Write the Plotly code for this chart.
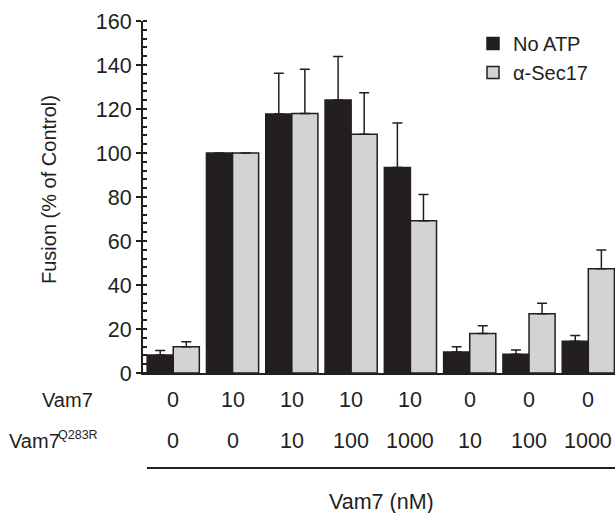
import plotly.graph_objects as go

# ---- data ----
groups = [0, 1, 2, 3, 4, 5, 6, 7]
vam7 = ["0", "10", "10", "10", "10", "0", "0", "0"]
vam7_q283r = ["0", "0", "10", "100", "1000", "10", "100", "1000"]
no_atp = [8.2, 100, 117.7, 124.1, 93.4, 9.5, 8.5, 14.4]
no_atp_err = [2.0, 0, 18.6, 19.8, 20.2, 2.4, 1.9, 2.7]
sec17 = [11.9, 100, 117.9, 108.5, 69.2, 18.0, 26.9, 47.4]
sec17_err = [2.3, 0, 20.2, 18.9, 11.9, 3.5, 4.8, 8.5]
series_names = ["No ATP", "\u03b1-Sec17"]
y_ticks = [0, 20, 40, 60, 80, 100, 120, 140, 160]

INK = "#231f20"
GRAY = "#d1d3d4"
FONT = "Liberation Sans, Arial, sans-serif"
NUM = 21.5

fig = go.Figure()
for name, vals, errs, col in [(series_names[0], no_atp, no_atp_err, INK),
                              (series_names[1], sec17, sec17_err, GRAY)]:
    fig.add_trace(go.Bar(
        x=groups, y=vals, name=name,
        marker=dict(color=col, line=dict(color=INK, width=1.5)),
        error_y=dict(type="data", symmetric=False, array=errs,
                     arrayminus=[0] * len(errs), color=INK,
                     thickness=1.5, width=5),
    ))

# invisible trace to carry the overlay axis (inner half of major ticks)
fig.add_trace(go.Scatter(x=[None], y=[None], yaxis="y2", showlegend=False,
                         hoverinfo="skip"))

W, H = 615, 513
L, R, T, B = 143, 0, 21, 140
ph = H - T - B
pw = W - L - R

def py(Y):
    return (H - B - Y) / ph

def px(X):
    return (X - L) / pw

fig.update_layout(
    width=W, height=H,
    margin=dict(l=L, r=R, t=T, b=B),
    plot_bgcolor="white", paper_bgcolor="white",
    barmode="group", bargap=0.12, bargroupgap=0,
    font=dict(family=FONT, size=20, color=INK),
    showlegend=True,
    legend=dict(x=px(473), y=py(24), xanchor="left", yanchor="top",
                font=dict(size=20, color=INK), bgcolor="rgba(0,0,0,0)",
                itemwidth=30, tracegroupgap=0),
    xaxis=dict(range=[-0.51, 7.45], showticklabels=False, ticks="",
               showgrid=False, zeroline=False, showline=True,
               linecolor=INK, linewidth=2),
    yaxis=dict(range=[0, 160], tickvals=y_ticks, ticks="outside", ticklen=5,
               tickwidth=1.5, tickcolor=INK, showgrid=False, zeroline=False,
               showline=True, linecolor=INK, linewidth=2,
               tickfont=dict(size=NUM, color=INK),
               minor=dict(dtick=4, ticks="inside", ticklen=4, tickwidth=1.5,
                          tickcolor=INK, showgrid=False)),
    yaxis2=dict(range=[0, 160], overlaying="y", side="left", tickvals=y_ticks,
                ticks="inside", ticklen=4, tickwidth=1.5, tickcolor=INK,
                showticklabels=False, showgrid=False, zeroline=False,
                showline=False),
)

annotations = []
# y axis title
annotations.append(dict(text="Fusion (% of Control)", textangle=-90,
                        xref="paper", yref="paper", x=px(49), y=py(190),
                        xanchor="center", yanchor="middle", showarrow=False,
                        font=dict(size=20, color=INK)))
# row labels
annotations.append(dict(text="Vam7", xref="paper", yref="paper", x=px(95),
                        y=py(400), xanchor="right", yanchor="middle",
                        showarrow=False, font=dict(size=20, color=INK)))
annotations.append(dict(text="Vam7", xref="paper", yref="paper", x=px(62),
                        y=py(441), xanchor="right", yanchor="middle",
                        showarrow=False, font=dict(size=20, color=INK)))
annotations.append(dict(text="Q283R", xref="paper", yref="paper", x=px(56),
                        y=py(435), xanchor="left", yanchor="middle",
                        showarrow=False, font=dict(size=12.5, color=INK)))
for g, a, b in zip(groups, vam7, vam7_q283r):
    annotations.append(dict(text=a, xref="x", yref="paper", x=g, y=py(400),
                            xanchor="center", yanchor="middle", showarrow=False,
                            font=dict(size=NUM, color=INK)))
    annotations.append(dict(text=b, xref="x", yref="paper", x=g, y=py(441),
                            xanchor="center", yanchor="middle", showarrow=False,
                            font=dict(size=NUM, color=INK)))
annotations.append(dict(text="Vam7 (nM)", xref="paper", yref="paper",
                        x=px(381), y=py(502), xanchor="center", yanchor="middle",
                        showarrow=False, font=dict(size=21.5, color=INK)))
fig.update_layout(annotations=annotations)

fig.add_shape(type="line", xref="paper", yref="paper", x0=px(147), x1=1.0,
              y0=py(468), y1=py(468), line=dict(color=INK, width=2))

fig.write_html("out.html")
